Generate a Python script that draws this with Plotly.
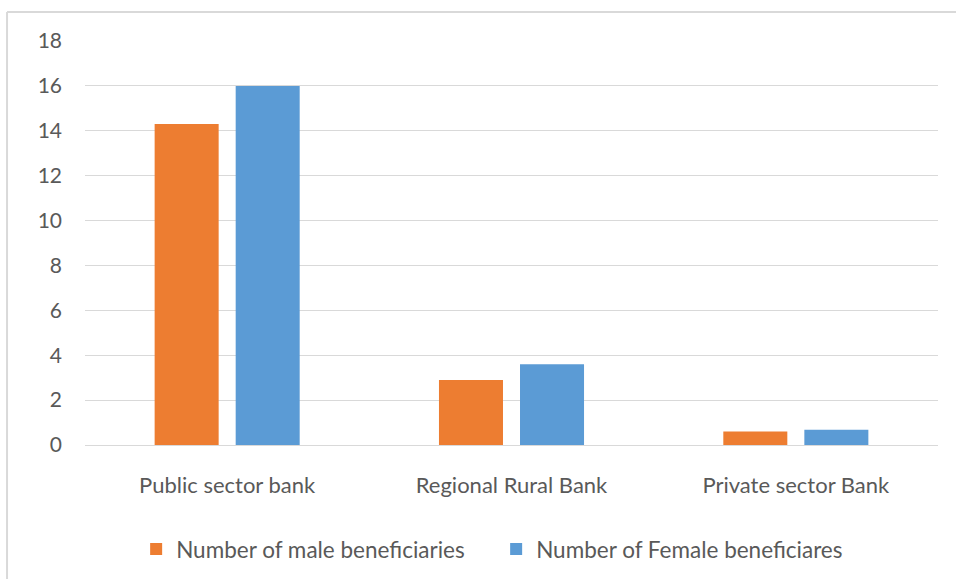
import plotly.graph_objects as go

categories = ["Public sector bank", "Regional Rural Bank", "Private sector Bank"]
male = [14.3, 2.9, 0.6]
female = [16.0, 3.6, 0.68]
y_ticks = [0, 2, 4, 6, 8, 10, 12, 14, 16, 18]

fig = go.Figure()
fig.add_trace(go.Bar(x=categories, y=male, name="Number of male beneficiaries",
                     marker=dict(color="#ED7D31", line=dict(width=0))))
fig.add_trace(go.Bar(x=categories, y=female, name="Number of Female beneficiares",
                     marker=dict(color="#5B9BD5", line=dict(width=0))))

font_family = "Lato, Open Sans, sans-serif"
fig.update_layout(
    width=956, height=579,
    paper_bgcolor="white", plot_bgcolor="white",
    margin=dict(l=85, r=18, t=41, b=134, autoexpand=False),
    barmode="group", bargap=0.43, bargroupgap=0.21,
    font=dict(family=font_family, color="#595959", size=21),
    showlegend=True,
    legend=dict(orientation="h", x=0.482, xanchor="center", y=-0.205, yanchor="top",
                font=dict(size=22.5, color="#595959"), itemwidth=30,
                entrywidth=315, entrywidthmode="pixels",
                traceorder="normal"),
    shapes=[
        dict(type="line", xref="paper", yref="paper", x0=-0.0914, x1=-0.0914, y0=-0.35, y1=1.0718,
             line=dict(color="#D9D9D9", width=2)),
        dict(type="line", xref="paper", yref="paper", x0=-0.0914, x1=1.03, y0=1.0718, y1=1.0718,
             line=dict(color="#D9D9D9", width=2)),
    ],
)
fig.update_yaxes(range=[0, 18], tickvals=y_ticks, showgrid=True, gridcolor="#D9D9D9",
                 gridwidth=1, zeroline=True, zerolinecolor="#D9D9D9", zerolinewidth=1,
                 showline=False, ticks="", ticklabelstandoff=22,
                 tickfont=dict(size=21, color="#595959"))
fig.update_xaxes(showline=False, ticks="", showgrid=False,
                 tickfont=dict(size=22, color="#595959"), ticklabelstandoff=25)

fig.write_html("out.html", config={"displayModeBar": False},
               post_script="document.body.style.margin='0px';")
